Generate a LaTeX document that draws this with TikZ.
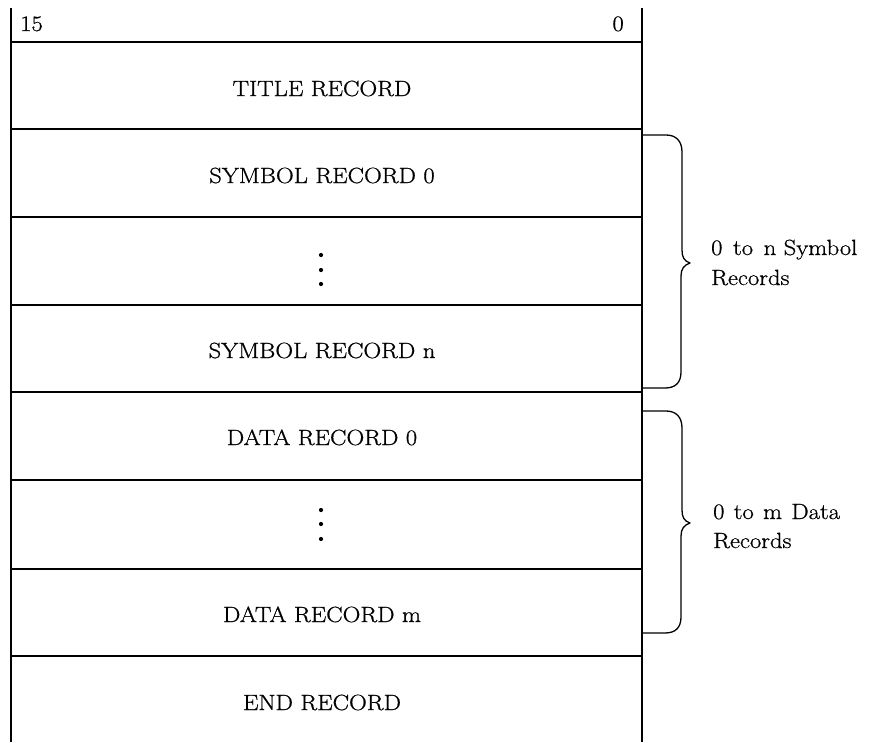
\documentclass[tikz,border=0pt]{standalone}
\usepackage{fontspec}
\setmainfont{Latin Modern Roman}[FakeStretch=1.12, FakeBold=0.8]
\begin{document}
\begin{tikzpicture}[x=1pt,y=-1pt,
  rule/.style={line width=1.3pt},
  sep/.style={line width=1.1pt},
  brace/.style={line width=1.3pt, line join=round},
  lbl/.style={inner sep=0pt, font=\fontsize{22}{26}\selectfont},
  dot/.style={circle, fill=black, inner sep=0pt, minimum size=4.2pt}]
  \useasboundingbox (0,0) rectangle (872,742);

  % outer columns
  \coordinate (tl) at (11,8);
  \coordinate (bl) at (11,742);
  \coordinate (tr) at (642,8);
  \coordinate (br) at (642,742);
  \draw[rule] (tl) -- (bl);
  \draw[rule] (tr) -- (br);

  % row separators
  \foreach \y [count=\i] in {42,129,217,305,392,480,569,656} {
    \coordinate (sL\i) at (11,\y);
    \coordinate (sR\i) at (642,\y);
    \draw[sep] (sL\i) -- (sR\i);
  }

  % bit numbers
  \node[lbl, anchor=base west] (b15) at (20,31) {15};
  \node[lbl, anchor=base east] (b0) at (624,31) {0};

  % record names
  \node[lbl, anchor=base] (title) at (322,96) {TITLE RECORD};
  \node[lbl, anchor=base] (sym0)  at (322,183) {SYMBOL RECORD 0};
  \node[dot] (sd1) at (321,255) {};
  \node[dot] (sd2) at (321,270) {};
  \node[dot] (sd3) at (321,284) {};
  \node[lbl, anchor=base] (symn)  at (322,358) {SYMBOL RECORD n};
  \node[lbl, anchor=base] (dat0)  at (322,445) {DATA RECORD 0};
  \node[dot] (dd1) at (321,510) {};
  \node[dot] (dd2) at (321,524) {};
  \node[dot] (dd3) at (321,539) {};
  \node[lbl, anchor=base] (datm)  at (322,622) {DATA RECORD m};
  \node[lbl, anchor=base] (endr)  at (322,710) {END RECORD};

  % braces
  \draw[brace] (643,135) -- (666,135)
      .. controls (676,135) and (682,141) .. (682,152)
      -- (682,250)
      .. controls (682,257) and (684,261) .. (690,263)
      .. controls (684,265) and (681,269) .. (681,276)
      -- (681,372)
      .. controls (681,383) and (675,388) .. (665,388)
      -- (643,388);
  \draw[brace] (643,411) -- (666,411)
      .. controls (676,411) and (682,417) .. (682,428)
      -- (682,510)
      .. controls (682,517) and (684,521) .. (690,523)
      .. controls (684,525) and (681,529) .. (681,536)
      -- (681,617)
      .. controls (681,628) and (675,633) .. (665,633)
      -- (643,633);

  % brace labels
  \node[lbl, anchor=base west] (symA) at (711,255) {0\hspace{0.48em}to\hspace{0.48em}n Symbol};
  \node[lbl, anchor=base west] (symB) at (711,285) {Records};
  \node[lbl, anchor=base west] (datA) at (713,519) {0\hspace{0.42em}to\hspace{0.42em}m\hspace{0.42em}Data};
  \node[lbl, anchor=base west] (datB) at (713,548) {Records};
\end{tikzpicture}
\end{document}
